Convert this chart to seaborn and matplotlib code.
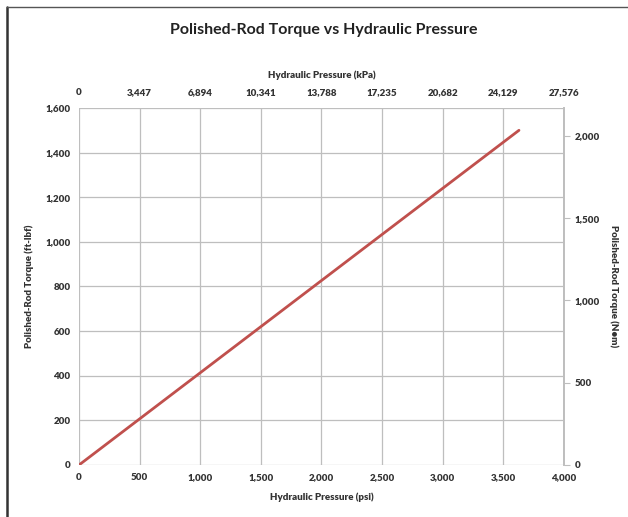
import matplotlib
matplotlib.use("Agg")
import matplotlib.pyplot as plt
from matplotlib.lines import Line2D
import seaborn as sns
import pandas as pd

# data
pressure_psi = [0, 3630]
torque_ftlbf = [0, 1500]
psi_ticks = [0, 500, 1000, 1500, 2000, 2500, 3000, 3500, 4000]
kpa_ticks = [0, 3447, 6894, 10341, 13788, 17235, 20682, 24129, 27576]
torque_ticks = [0, 200, 400, 600, 800, 1000, 1200, 1400, 1600]
nm_ticks = [0, 500, 1000, 1500, 2000]

PSI_TO_KPA = 6.894
FTLBF_TO_NM = 1.35582

sns.set_theme(style="white")
plt.rcParams['font.family'] = ['Lato', 'DejaVu Sans']

df = pd.DataFrame({"psi": pressure_psi, "torque": torque_ftlbf})

fig = plt.figure(figsize=(6.28, 5.17), dpi=100)
ax = fig.add_axes([0.1258, 0.1006, 0.772, 0.6905])

sns.lineplot(data=df, x="psi", y="torque", ax=ax, color="#C0504D", lw=2.0)

ax.set_xlim(0, 4000)
ax.set_ylim(0, 1600)
ax.set_xticks(psi_ticks)
ax.set_yticks(torque_ticks)
ax.set_xticklabels([f"{v:,}" for v in psi_ticks])
ax.set_yticklabels([f"{v:,}" for v in torque_ticks])
ax.grid(True, color="#BEBEBE", lw=0.9)
for s in ["left", "bottom", "top"]:
    ax.spines[s].set_visible(False)
ax.spines["right"].set_color("#BEBEBE")
ax.tick_params(axis="both", length=0, labelsize=7, colors="#333333", pad=6)
for lab in ax.get_xticklabels() + ax.get_yticklabels():
    lab.set_fontweight("heavy")

lbl = dict(fontsize=7, fontweight="heavy", color="#333333")
ax.set_xlabel("Hydraulic Pressure (psi)", labelpad=7, **lbl)
ax.set_ylabel("Polished-Rod Torque (ft-lbf)", labelpad=8, **lbl)

top = ax.secondary_xaxis("top", functions=(lambda x: x * PSI_TO_KPA, lambda x: x / PSI_TO_KPA))
top.set_xticks(kpa_ticks)
top.set_xticklabels([f"{v:,}" for v in kpa_ticks])
top.spines["top"].set_visible(False)
top.tick_params(length=0, labelsize=7, colors="#333333", pad=8)
for lab in top.get_xticklabels():
    lab.set_fontweight("heavy")
top.set_xlabel("Hydraulic Pressure (kPa)", labelpad=7, **lbl)

right = ax.secondary_yaxis("right", functions=(lambda y: y * FTLBF_TO_NM, lambda y: y / FTLBF_TO_NM))
right.set_yticks(nm_ticks)
right.set_yticklabels([f"{v:,}" for v in nm_ticks])
right.spines["right"].set_color("#BEBEBE")
right.tick_params(length=4, width=0.8, color="#BEBEBE", labelsize=7, labelcolor="#333333", pad=4)
for lab in right.get_yticklabels():
    lab.set_fontweight("heavy")
right.set_ylabel("Polished-Rod Torque (N\u2022m)", rotation=-90, labelpad=13, **lbl)

fig.text(0.515, 0.942, "Polished-Rod Torque vs Hydraulic Pressure", ha="center", va="center",
         fontsize=11.5, fontweight="bold", color="#222222")

# outer frame (left and top edges visible)
fig.add_artist(Line2D([0.011, 0.011], [0.0, 0.986], transform=fig.transFigure, color="#333333", lw=1.8))
fig.add_artist(Line2D([0.011, 1.0], [0.986, 0.986], transform=fig.transFigure, color="#555555", lw=1.0))

fig.savefig("out.png", dpi=100)
